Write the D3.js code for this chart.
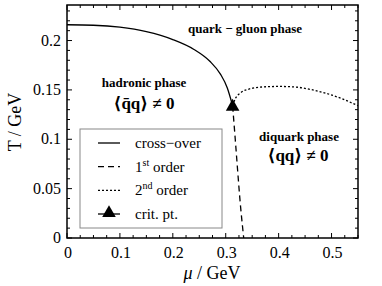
<!DOCTYPE html>
<html lang="en">
<head>
    <meta charset="UTF-8">
    <script src="https://d3js.org/d3.v7.min.js"></script>
    <title>Phase diagram</title>
    <style>
        body { margin: 0; background: #fff; font-family: 'Liberation Serif', 'Times New Roman', 'DejaVu Serif', serif; }
        svg { display: block; }
        svg text { font-family: 'Liberation Serif', 'Times New Roman', 'DejaVu Serif', serif; }
        .frame { fill: none; stroke: #000; stroke-width: 1.5px; }
        .tick { stroke: #000; stroke-width: 1px; }
        .tlab { font-size: 16px; fill: #000; }
        .phase { font-weight: bold; font-size: 13px; fill: #000; }
        .cond { font-weight: bold; font-size: 17px; fill: #000; }
    </style>
</head>
<body>
    <svg width="382" height="286"></svg>
    <script>
        // values
        const crossover = [
            [0, 0.216], [0.05, 0.2155], [0.1, 0.2135], [0.15, 0.209], [0.2, 0.201],
            [0.24, 0.191], [0.27, 0.179], [0.29, 0.166], [0.303, 0.152], [0.313, 0.134]
        ];
        const firstOrder = [
            [0.313, 0.134], [0.318, 0.1], [0.323, 0.065], [0.328, 0.032], [0.334, 0]
        ];
        const secondOrder = [
            [0.313, 0.134], [0.318, 0.141], [0.328, 0.147], [0.345, 0.151], [0.37, 0.153],
            [0.4, 0.1535], [0.43, 0.153], [0.46, 0.1505], [0.49, 0.1465], [0.52, 0.141], [0.55, 0.134]
        ];
        const critPoint = [0.313, 0.134];
        const xTicks = [0, 0.1, 0.2, 0.3, 0.4, 0.5];
        const yTicks = [0, 0.05, 0.1, 0.15, 0.2];
        const legendItems = ['cross\u2212over', '1st order', '2nd order', 'crit. pt.'];

        const serif = "'Liberation Serif', 'Times New Roman', 'DejaVu Serif', serif";
        const svg = d3.select('svg');
        const x = d3.scaleLinear().domain([0, 0.55]).range([67, 358]);
        const y = d3.scaleLinear().domain([0, 0.236]).range([238, 5]);

        svg.append('rect').attr('width', 382).attr('height', 286).attr('fill', '#fff');

        // ticks, inward on all four sides
        const xMinor = d3.range(0, 0.551, 0.025);
        const yMinor = d3.range(0, 0.2361, 0.01);
        const tg = svg.append('g');
        xMinor.forEach(v => {
            const major = xTicks.some(t => Math.abs(t - v) < 1e-6);
            const len = major ? 5 : 3;
            tg.append('line').attr('class', 'tick').attr('x1', x(v)).attr('x2', x(v)).attr('y1', y(0)).attr('y2', y(0) - len);
            tg.append('line').attr('class', 'tick').attr('x1', x(v)).attr('x2', x(v)).attr('y1', y.range()[1]).attr('y2', y.range()[1] + len);
        });
        yMinor.forEach(v => {
            const major = yTicks.some(t => Math.abs(t - v) < 1e-6);
            const len = major ? 5 : 3;
            tg.append('line').attr('class', 'tick').attr('x1', x(0)).attr('x2', x(0) + len).attr('y1', y(v)).attr('y2', y(v));
            tg.append('line').attr('class', 'tick').attr('x1', x.range()[1]).attr('x2', x.range()[1] - len).attr('y1', y(v)).attr('y2', y(v));
        });

        svg.selectAll('.xl').data(xTicks).enter().append('text')
            .attr('class', 'tlab').attr('x', d => x(d) + 1).attr('y', 258)
            .attr('text-anchor', 'middle').text(d => d);
        svg.selectAll('.yl').data(yTicks).enter().append('text')
            .attr('class', 'tlab').attr('x', 61).attr('y', d => y(d) + 5)
            .attr('text-anchor', 'end').text(d => d);

        svg.append('rect').attr('class', 'frame')
            .attr('x', x(0)).attr('y', y.range()[1])
            .attr('width', x.range()[1] - x(0)).attr('height', y(0) - y.range()[1]);

        // axis titles
        const xt = svg.append('text').attr('x', 212).attr('y', 279).attr('text-anchor', 'middle').attr('font-size', 18);
        xt.append('tspan').attr('font-style', 'italic').text('\u03bc');
        xt.append('tspan').text(' / GeV');
        svg.append('text').attr('transform', 'translate(21,122) rotate(-90)')
            .attr('text-anchor', 'middle').attr('font-size', 18).text('T / GeV');

        // curves
        const line = d3.line().x(d => x(d[0])).y(d => y(d[1])).curve(d3.curveMonotoneX);
        const lineY = d3.line().x(d => x(d[0])).y(d => y(d[1])).curve(d3.curveMonotoneY);
        svg.append('path').attr('d', line(crossover)).attr('fill', 'none').attr('stroke', '#000').attr('stroke-width', 1.3);
        svg.append('path').attr('d', lineY(firstOrder)).attr('fill', 'none').attr('stroke', '#000').attr('stroke-width', 1.3).attr('stroke-dasharray', '6,4');
        svg.append('path').attr('d', line(secondOrder)).attr('fill', 'none').attr('stroke', '#000').attr('stroke-width', 1.3).attr('stroke-dasharray', '2,2');

        const tri = d3.symbol().type(d3.symbolTriangle).size(80);
        svg.append('path').attr('d', tri()).attr('transform', `translate(${x(critPoint[0])},${y(critPoint[1]) + 1})`).attr('fill', '#000');

        // phase labels
        svg.append('text').attr('class', 'phase').attr('x', 245).attr('y', 33).attr('text-anchor', 'middle').text('quark \u2212 gluon phase');
        svg.append('text').attr('class', 'phase').attr('x', 144).attr('y', 87).attr('text-anchor', 'middle').text('hadronic phase');
        svg.append('text').attr('class', 'cond').attr('x', 144).attr('y', 109).attr('text-anchor', 'middle').text('\u27e8q\u0304q\u27e9 \u2260 0');
        svg.append('text').attr('class', 'phase').attr('x', 299).attr('y', 141).attr('text-anchor', 'middle').text('diquark phase');
        svg.append('text').attr('class', 'cond').attr('x', 298).attr('y', 161).attr('text-anchor', 'middle').text('\u27e8qq\u27e9 \u2260 0');

        // legend
        const lg = svg.append('g');
        lg.append('rect').attr('x', 80).attr('y', 129).attr('width', 142).attr('height', 99)
            .attr('fill', '#fff').attr('stroke', '#888').attr('stroke-width', 1);
        const rowY = d3.scalePoint().domain(legendItems).range([143, 214]);
        const dashes = [null, '6,4', '2,2', null];
        legendItems.forEach((name, i) => {
            const yy = rowY(name);
            lg.append('line').attr('x1', 98).attr('x2', 120).attr('y1', yy).attr('y2', yy)
                .attr('stroke', '#000').attr('stroke-width', 1.3).attr('stroke-dasharray', dashes[i]);
            const t = lg.append('text').attr('x', 135).attr('y', yy + 5).attr('font-size', 15);
            if (i === 1 || i === 2) {
                t.append('tspan').text(i === 1 ? '1' : '2');
                t.append('tspan').attr('font-size', 10).attr('dy', -6).text(i === 1 ? 'st' : 'nd');
                t.append('tspan').attr('dy', 6).text(' order');
            } else {
                t.text(name);
            }
        });
        lg.append('path').attr('d', tri()).attr('transform', `translate(109,${rowY('crit. pt.') - 1})`).attr('fill', '#000');

        svg.selectAll('text').attr('font-family', serif);
    </script>
</body>
</html>
